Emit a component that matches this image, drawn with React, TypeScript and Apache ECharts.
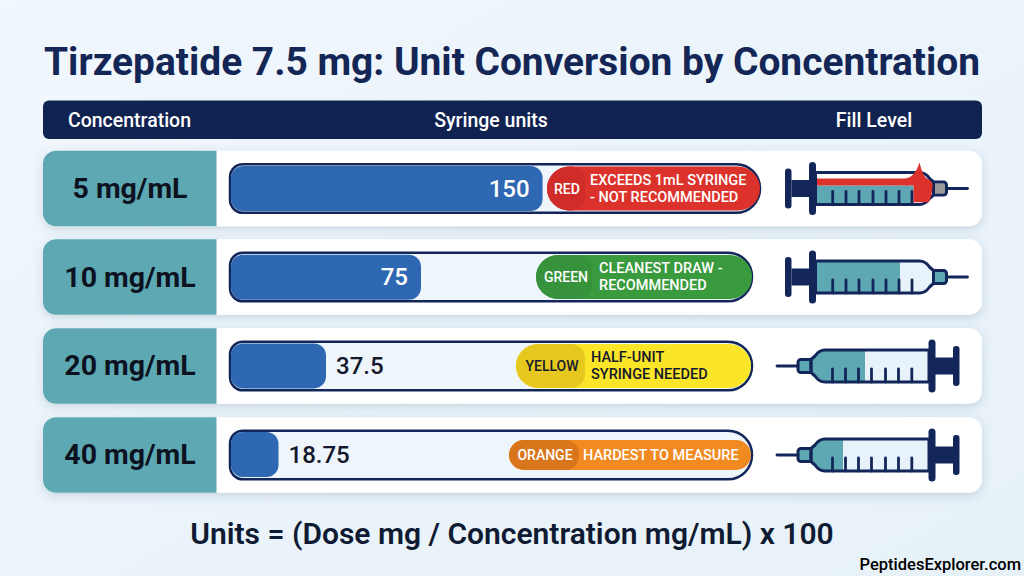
import React, { useEffect, useRef } from 'react';
import * as echarts from 'echarts';

const titleText = 'Tirzepatide 7.5 mg: Unit Conversion by Concentration';
const headers = ['Concentration', 'Syringe units', 'Fill Level'];
const formula = 'Units = (Dose mg / Concentration mg/mL) x 100';
const watermark = 'PeptidesExplorer.com';

const concentrations = ['5 mg/mL', '10 mg/mL', '20 mg/mL', '40 mg/mL'];
const units = [150, 75, 37.5, 18.75];
// the 150 bar is cut short in the picture, it stops before the red badge
const barCap = 123;

const tags = ['RED', 'GREEN', 'YELLOW', 'ORANGE'];
const notes = [
  ['EXCEEDS 1mL SYRINGE', '- NOT RECOMMENDED'],
  ['CLEANEST DRAW -', 'RECOMMENDED'],
  ['HALF-UNIT', 'SYRINGE NEEDED'],
  ['HARDEST TO MEASURE'],
];

const NAVY = '#12265a';
const TEAL = '#5da8b3';
const FONT = 'Roboto';

// one rect per row, y is the row's centre
const rowY = [188.5, 277, 366, 455];
const trackRight = [760, 752, 752, 752];
const badges = [
  { left: 547, right: 760, tagRight: 585, h: 44, pill: '#dc322c', tag: '#cf2c2a', ink: '#ffffff', noteX: 590, tagX: 567 },
  { left: 536, right: 752, tagRight: 592, h: 44, pill: '#3a9a3e', tag: '#36933b', ink: '#ffffff', noteX: 599, tagX: 566 },
  { left: 516, right: 751, tagRight: 585, h: 44, pill: '#fbe528', tag: '#e6c81f', ink: '#14182c', noteX: 591, tagX: 552 },
  { left: 509, right: 751, tagRight: 579, h: 30, pill: '#f28a22', tag: '#d9761b', ink: '#ffffff', noteX: 583, tagX: 545 },
];
const syringes = [
  { x: 812.5, flip: 1, fillFrom: 3.5, fillTo: 101, fillTop: -3, tip: '#9a9a9a', inner: '#ffffff', over: true },
  { x: 812.5, flip: 1, fillFrom: 3.5, fillTo: 87.5, fillTop: -16, tip: TEAL, inner: '#e8f2fa', over: false },
  { x: 932, flip: -1, fillFrom: 67, fillTo: 120, fillTop: -16, tip: TEAL, inner: '#e8f2fa', over: false },
  { x: 932, flip: -1, fillFrom: 89, fillTo: 120, fillTop: -16, tip: TEAL, inner: '#e8f2fa', over: false },
];
const tickX = [20.2, 33.5, 46.5, 60.5, 73.5, 86.5, 99.5];

const barrelPath = 'M3 -16 L107 -16 Q113 -16 117 -10 L121 -6.5 L121 6.5 L117 10 Q113 16 107 16 L3 16 Z';
const fillPath = 'M3 -15 L107 -15 Q112 -15 116 -9 L120 -6 L120 6 L116 9 Q112 15 107 15 L3 15 Z';
const overflowPath = 'M93 -9.7 Q103 -12 107 -26 Q110 -14 113 -11 Q122 -6 120 -1.3 Q119 10 116 13.7 L101 13.7 L101 -3 L93 -3 Z';

echarts.graphic.registerShape('syringeBarrel', echarts.graphic.extendPath(barrelPath, {}));
echarts.graphic.registerShape('syringeInner', echarts.graphic.extendPath(fillPath, {}));
echarts.graphic.registerShape('syringeOverflow', echarts.graphic.extendPath(overflowPath, {}));

const label = (text: string, x: number, y: number, size: number, fill: string, weight = 500, align = 'center', z = 6) => ({
  type: 'text',
  z,
  silent: true,
  style: { text, x, y, fill, fontFamily: FONT, fontSize: size, fontWeight: weight, textAlign: align, textVerticalAlign: 'middle' },
});

const buildRow = (i: number) => {
  const y = rowY[i];
  const b = badges[i];
  const noteLines = notes[i];
  const items: any[] = [
    {
      type: 'rect',
      z: -3,
      silent: true,
      shape: { x: 43, y: y - 37.7, width: 939, height: 75.5, r: 13 },
      style: { fill: '#ffffff', shadowBlur: 10, shadowOffsetY: 3, shadowColor: 'rgba(50,85,115,0.2)' },
    },
    {
      type: 'rect',
      z: -2,
      silent: true,
      shape: { x: 43, y: y - 37.7, width: 173.5, height: 75.5, r: [13, 0, 0, 13] },
      style: { fill: TEAL },
    },
    {
      type: 'rect',
      z: -2,
      silent: true,
      shape: { x: 230, y: y - 24.3, width: trackRight[i] - 230, height: 48.6, r: [13, 24, 24, 13] },
      style: { fill: '#eef5fb', stroke: NAVY, lineWidth: 2.5 },
    },
    {
      type: 'rect',
      z: 5,
      silent: true,
      shape: { x: b.left, y: y - b.h / 2, width: b.right - b.left, height: b.h, r: b.h / 2 },
      style: { fill: b.pill },
    },
    {
      type: 'rect',
      z: 5,
      silent: true,
      shape: { x: b.left, y: y - b.h / 2, width: b.tagRight - b.left, height: b.h, r: [b.h / 2, 14, 14, b.h / 2] },
      style: { fill: b.tag },
    },
    label(tags[i], b.tagX, y, 14, b.ink),
  ];
  noteLines.forEach((line, n) => {
    const ly = noteLines.length === 1 ? y : y + (n === 0 ? -8.5 : 8.5);
    items.push(label(line, b.noteX, ly, 14.5, b.ink, 500, 'left'));
  });
  return items;
};

const buildSyringe = (i: number) => {
  const s = syringes[i];
  const y = rowY[i];
  const z = 3;
  const children: any[] = [
    { type: 'syringeInner', z, silent: true, style: { fill: s.inner } },
    {
      type: 'rect',
      z,
      silent: true,
      shape: { x: s.fillFrom, y: s.fillTop, width: Math.min(s.fillTo, 113) - s.fillFrom, height: 15 - s.fillTop },
      style: { fill: TEAL },
    },
    { type: 'rect', z, silent: true, shape: { x: 121, y: -5, width: 12, height: 10 }, style: { fill: s.tip } },
  ];
  if (s.fillFrom > 60) {
    // filled from the needle end: follow the shoulder of the barrel
    children.push({
      type: 'polygon',
      z,
      silent: true,
      shape: { points: [[113, -15], [120, -6], [120, 6], [113, 15]] },
      style: { fill: TEAL },
    });
  }
  if (s.over) {
    children.push({
      type: 'rect',
      z,
      silent: true,
      shape: { x: 3.5, y: -10, width: 92, height: 7 },
      style: { fill: '#dc322c' },
    });
  }
  tickX.forEach((tx) => {
    children.push({
      type: 'line',
      z: z + 1,
      silent: true,
      shape: { x1: tx, y1: 3, x2: tx, y2: 16 },
      style: { stroke: NAVY, lineWidth: 2.8, lineCap: 'round' },
    });
  });
  children.push(
    { type: 'syringeBarrel', z: z + 1, silent: true, style: { fill: 'none', stroke: NAVY, lineWidth: 3, lineJoin: 'round' } },
    { type: 'rect', z: z + 1, silent: true, shape: { x: 121, y: -6.5, width: 13, height: 13, r: [0, 3, 3, 0] }, style: { fill: 'none', stroke: NAVY, lineWidth: 3 } },
    { type: 'line', z: z + 1, silent: true, shape: { x1: 134, y1: 0, x2: 155, y2: 0 }, style: { stroke: NAVY, lineWidth: 2.8, lineCap: 'round' } },
    { type: 'rect', z: z + 1, silent: true, shape: { x: -21, y: -8.5, width: 20, height: 17 }, style: { fill: NAVY } },
    { type: 'rect', z: z + 2, silent: true, shape: { x: -3.5, y: -26.5, width: 7, height: 53, r: 3.5 }, style: { fill: NAVY } },
    { type: 'rect', z: z + 1, silent: true, shape: { x: -27.5, y: -20, width: 6.5, height: 40, r: 3 }, style: { fill: NAVY } },
  );
  if (s.over) {
    // the overflow sits on top of the barrel outline
    children.push({ type: 'syringeOverflow', z: z + 3, silent: true, style: { fill: '#dc322c' } });
  }
  return { type: 'group', x: s.x, y, scaleX: s.flip, children };
};

const App: React.FC = () => {
  const chartRef = useRef<HTMLDivElement>(null);

  useEffect(() => {
    if (!chartRef.current) return;
    const myChart = echarts.init(chartRef.current, undefined, { renderer: 'svg' });

    const option: any = {
      animation: false,
      backgroundColor: {
        type: 'linear',
        x: 0,
        y: 0,
        x2: 1,
        y2: 1,
        colorStops: [
          { offset: 0, color: '#f0f7fd' },
          { offset: 1, color: '#e7f1f8' },
        ],
      },
      title: {
        text: titleText,
        left: 'center',
        top: 37,
        textStyle: { fontFamily: FONT, fontSize: 38.9, fontWeight: 700, color: '#132656' },
      },
      grid: { left: 231, width: 380, top: 144.2, height: 354.7 },
      xAxis: { type: 'value', min: 0, max: 150, show: false },
      yAxis: {
        type: 'category',
        inverse: true,
        data: concentrations,
        axisLine: { show: false },
        axisTick: { show: false },
        splitLine: { show: false },
        axisLabel: {
          margin: 101,
          align: 'center',
          fontFamily: FONT,
          fontSize: 28.5,
          fontWeight: 700,
          color: '#0c1220',
        },
      },
      series: [
        {
          type: 'bar',
          barWidth: 45,
          z: 2,
          itemStyle: { color: '#2f68b2', borderRadius: 12 },
          data: units.map((u) => {
            const inside = u >= 75;
            return {
              value: Math.min(u, barCap),
              label: {
                show: true,
                position: inside ? 'insideRight' : 'right',
                distance: inside ? 13 : 10,
                color: inside ? '#ffffff' : '#14182c',
                fontFamily: FONT,
                fontSize: 24,
                fontWeight: 500,
                formatter: () => String(u),
              },
            };
          }),
        },
      ],
      graphic: {
        elements: [
          {
            type: 'rect',
            z: -3,
            silent: true,
            shape: { x: 43, y: 100.5, width: 939, height: 38.5, r: 6 },
            style: { fill: '#102250' },
          },
          label(headers[0], 129.5, 120, 19.5, '#ffffff'),
          label(headers[1], 491, 120, 19.5, '#ffffff'),
          label(headers[2], 874, 120, 19.5, '#ffffff'),
          ...concentrations.flatMap((_, i) => buildRow(i)),
          ...concentrations.map((_, i) => buildSyringe(i)),
          label(formula, 512, 533.5, 30, '#0f1b33', 600),
          label(watermark, 1021, 564, 16.5, '#000000', 500, 'right'),
        ],
      },
    };

    myChart.setOption(option);

    return () => {
      myChart.dispose();
    };
  }, []);

  return <div ref={chartRef} style={{ position: 'fixed', left: 0, top: 0, width: 1024, height: 576 }} />;
};

export default App;
